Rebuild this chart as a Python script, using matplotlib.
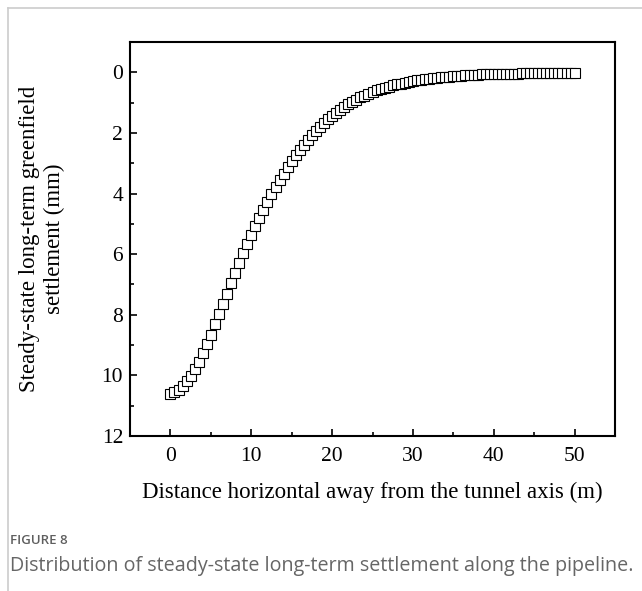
import numpy as np
import matplotlib.pyplot as plt
from matplotlib.ticker import MultipleLocator
from matplotlib.lines import Line2D

# distancia horizontal al eje del tunel (m), paso 0.5 m
distance = np.arange(0, 50.5, 0.5)

# asentamiento a largo plazo (mm)
settlement = [
    10.60, 10.55, 10.47, 10.36, 10.20, 10.02, 9.80, 9.55, 9.27, 8.97,
    8.66, 8.32, 7.98, 7.64, 7.30, 6.96, 6.62, 6.29, 5.97, 5.66,
    5.36, 5.07, 4.80, 4.53, 4.27, 4.02, 3.79, 3.56, 3.34, 3.13,
    2.93, 2.74, 2.56, 2.39, 2.23, 2.08, 1.94, 1.80, 1.67, 1.55,
    1.44, 1.33, 1.23, 1.14, 1.05, 0.97, 0.90, 0.83, 0.77, 0.71,
    0.65, 0.60, 0.55, 0.51, 0.47, 0.43, 0.40, 0.37, 0.34, 0.31,
    0.29, 0.26, 0.24, 0.22, 0.21, 0.19, 0.18, 0.16, 0.15, 0.14,
    0.13, 0.12, 0.11, 0.10, 0.09, 0.09, 0.08, 0.07, 0.07, 0.06,
    0.06, 0.05, 0.05, 0.05, 0.04, 0.04, 0.04, 0.03, 0.03, 0.03,
    0.03, 0.03, 0.02, 0.02, 0.02, 0.02, 0.02, 0.02, 0.02, 0.01,
    0.01,
]

x_ticks = [0, 10, 20, 30, 40, 50]
y_ticks = [0, 2, 4, 6, 8, 10, 12]

serif = ['Liberation Serif', 'DejaVu Serif']
sans = ['Open Sans', 'DejaVu Sans']

fig = plt.figure(figsize=(6.42, 5.91), dpi=100)

# marco gris del recuadro de la figura
fig.add_artist(Line2D([8 / 642, 1], [1 - 8 / 591, 1 - 8 / 591], color='#cccccc', lw=1.2))
fig.add_artist(Line2D([8 / 642, 8 / 642], [0, 1 - 8 / 591], color='#cccccc', lw=1.2))

ax = fig.add_axes([130 / 642, 155 / 591, 485 / 642, 394 / 591])
ax.plot(distance, settlement, '-', color='black', lw=0.8,
        marker='s', markersize=6.5, markerfacecolor='white',
        markeredgecolor='black', markeredgewidth=0.8)

ax.set_xlim(-5, 55)
ax.set_ylim(12, -1)
ax.set_xticks(x_ticks)
ax.set_yticks(y_ticks)
ax.xaxis.set_minor_locator(MultipleLocator(5))
ax.yaxis.set_minor_locator(MultipleLocator(1))
ax.tick_params(which='both', direction='in', top=False, right=False, width=1.2)
ax.tick_params(which='major', length=5, labelsize=15.5)
ax.tick_params(axis='x', which='major', pad=8)
ax.tick_params(axis='y', which='major', pad=5)
ax.tick_params(which='minor', length=3)
for lab in ax.get_xticklabels() + ax.get_yticklabels():
    lab.set_family(serif)
for sp in ax.spines.values():
    sp.set_linewidth(1.5)

ax.set_xlabel("Distance horizontal away from the tunnel axis (m)",
              fontsize=16.5, family=serif, va='center')
ax.xaxis.set_label_coords(0.5, (436 - 492) / 394)
ax.set_ylabel("Steady-state long-term greenfield\nsettlement (mm)",
              fontsize=16.5, family=serif, va='center', linespacing=1.25)
ax.yaxis.set_label_coords((42 - 130) / 485, 0.5)

fig.text(10 / 642, 1 - 541 / 591, "FIGURE 8", fontsize=9.5, color='#5f5f5f',
         family=sans, weight='semibold', va='center')
fig.text(10 / 642, 1 - 566 / 591,
         "Distribution of steady-state long-term settlement along the pipeline.",
         fontsize=14.2, color='#666666', family=sans, va='center')

fig.savefig('out.png', dpi=100)
